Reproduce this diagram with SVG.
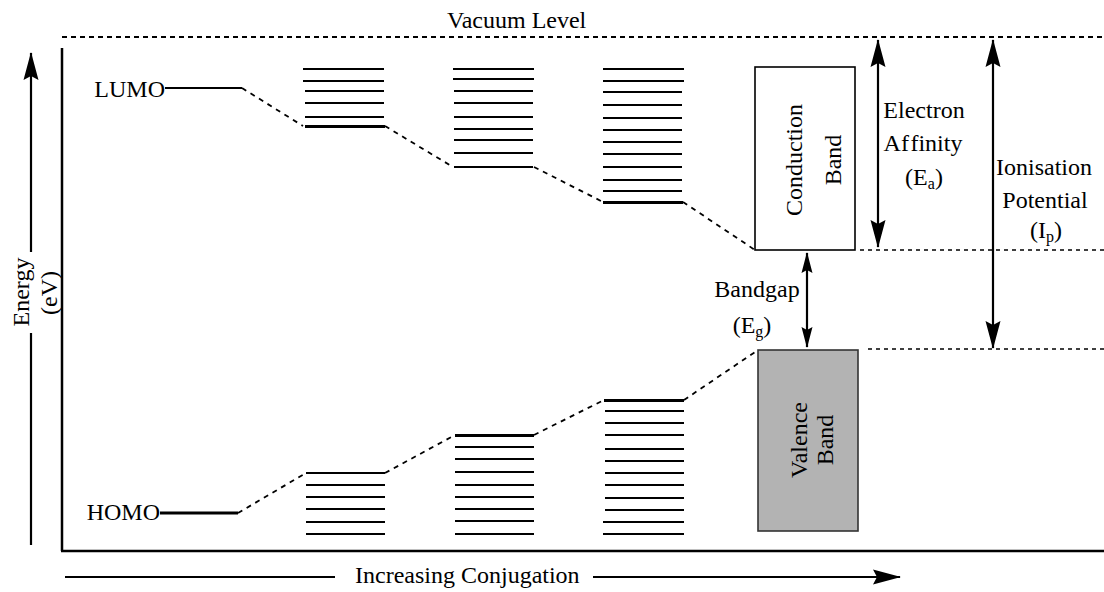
<svg xmlns="http://www.w3.org/2000/svg" width="1104" height="592" viewBox="0 0 1104 592">
<style>
text{font-family:"Liberation Serif","Times New Roman",serif;font-size:24px;fill:#000}
.ax{stroke:#000;stroke-width:2.5;fill:none}
.lv{stroke:#000;stroke-width:2}
.lvt{stroke:#000;stroke-width:3.2}
.dsh{stroke:#000;stroke-width:1.8;stroke-dasharray:5 5;fill:none}
.dot{stroke:#000;stroke-width:1.5;stroke-dasharray:4 4;fill:none}
.vac{stroke:#000;stroke-width:2.2;stroke-dasharray:5 4;fill:none}
.arr{stroke:#000;stroke-width:2.2;fill:none}
.sub{font-size:16px}
</style>
<defs>
<marker id="ah" markerUnits="userSpaceOnUse" markerWidth="28" markerHeight="16" viewBox="0 0 28 16" refX="27" refY="8" orient="auto-start-reverse">
<path d="M28,8 L0,0.5 L4,8 L0,15.5 Z" fill="#000"/>
</marker>
<marker id="ahs" markerUnits="userSpaceOnUse" markerWidth="21" markerHeight="12" viewBox="0 0 21 12" refX="20" refY="6" orient="auto-start-reverse">
<path d="M21,6 L0,0.5 L3,6 L0,11.5 Z" fill="#000"/>
</marker>
</defs>
<rect width="1104" height="592" fill="#fff"/>

<g id="frame">
<line class="vac" x1="62" y1="37" x2="1104" y2="37"/>
<line class="ax" x1="62" y1="48" x2="62" y2="551"/>
<line class="ax" x1="61" y1="551" x2="1104" y2="551"/>
<text x="447" y="28">Vacuum Level</text>
</g>

<g id="energy-axis">
<line class="arr" x1="31" y1="545" x2="31" y2="333"/>
<line class="arr" x1="31" y1="252" x2="31" y2="53" marker-end="url(#ah)"/>
<text transform="translate(29,292) rotate(-90)" text-anchor="middle">Energy</text>
<text transform="translate(57,293) rotate(-90)" text-anchor="middle">(eV)</text>
</g>

<g id="conjugation-axis">
<line class="arr" x1="65" y1="577" x2="335" y2="577"/>
<line class="arr" x1="593" y1="577" x2="900" y2="577" marker-end="url(#ah)"/>
<text x="355" y="583">Increasing Conjugation</text>
</g>

<g id="lumo">
<text x="165" y="97" text-anchor="end">LUMO</text>
<line class="lv" x1="165" y1="88" x2="242" y2="88"/>
</g>

<g id="homo">
<text x="160" y="520" text-anchor="end">HOMO</text>
<line class="lvt" x1="160" y1="513" x2="238" y2="513"/>
</g>

<g id="lumo-1">
<line class="lv" x1="303" y1="69" x2="384" y2="69"/>
<line class="lv" x1="303" y1="81" x2="384" y2="81"/>
<line class="lv" x1="305" y1="91" x2="384" y2="91"/>
<line class="lv" x1="305" y1="103" x2="384" y2="103"/>
<line class="lv" x1="305" y1="117" x2="384" y2="117"/>
<line class="lvt" x1="305" y1="126.5" x2="385" y2="126.5"/>
</g>
<g id="lumo-2">
<line class="lv" x1="453" y1="69" x2="534" y2="69"/>
<line class="lv" x1="453" y1="79" x2="534" y2="79"/>
<line class="lv" x1="454" y1="91" x2="533" y2="91"/>
<line class="lv" x1="454" y1="103" x2="533" y2="103"/>
<line class="lv" x1="454" y1="117" x2="533" y2="117"/>
<line class="lv" x1="454" y1="129" x2="533" y2="129"/>
<line class="lv" x1="454" y1="140" x2="533" y2="140"/>
<line class="lv" x1="454" y1="153" x2="533" y2="153"/>
<line class="lv" x1="454" y1="167" x2="533" y2="167"/>
</g>
<g id="lumo-3">
<line class="lv" x1="603" y1="69" x2="684" y2="69"/>
<line class="lv" x1="603" y1="81" x2="684" y2="81"/>
<line class="lv" x1="603" y1="92" x2="682" y2="92"/>
<line class="lv" x1="603" y1="105" x2="682" y2="105"/>
<line class="lv" x1="603" y1="118" x2="682" y2="118"/>
<line class="lv" x1="603" y1="130" x2="682" y2="130"/>
<line class="lv" x1="603" y1="142" x2="682" y2="142"/>
<line class="lv" x1="603" y1="154" x2="682" y2="154"/>
<line class="lv" x1="603" y1="167" x2="682" y2="167"/>
<line class="lv" x1="603" y1="180" x2="682" y2="180"/>
<line class="lv" x1="603" y1="191" x2="682" y2="191"/>
<line class="lvt" x1="603" y1="202.5" x2="683" y2="202.5"/>
</g>

<g id="homo-1">
<line class="lv" x1="306" y1="473" x2="385" y2="473"/>
<line class="lv" x1="306" y1="485" x2="385" y2="485"/>
<line class="lv" x1="306" y1="497" x2="385" y2="497"/>
<line class="lv" x1="306" y1="509" x2="385" y2="509"/>
<line class="lv" x1="306" y1="522" x2="385" y2="522"/>
<line class="lv" x1="306" y1="534" x2="385" y2="534"/>
</g>
<g id="homo-2">
<line class="lvt" x1="455" y1="435.5" x2="534" y2="435.5"/>
<line class="lv" x1="455" y1="447" x2="534" y2="447"/>
<line class="lv" x1="455" y1="459" x2="534" y2="459"/>
<line class="lv" x1="455" y1="472" x2="534" y2="472"/>
<line class="lv" x1="455" y1="485" x2="534" y2="485"/>
<line class="lv" x1="455" y1="497" x2="534" y2="497"/>
<line class="lv" x1="455" y1="509" x2="534" y2="509"/>
<line class="lv" x1="455" y1="521" x2="534" y2="521"/>
<line class="lv" x1="455" y1="534" x2="534" y2="534"/>
</g>
<g id="homo-3">
<line class="lvt" x1="604" y1="400.5" x2="684" y2="400.5"/>
<line class="lv" x1="605" y1="411" x2="684" y2="411"/>
<line class="lv" x1="605" y1="423" x2="684" y2="423"/>
<line class="lv" x1="605" y1="435" x2="684" y2="435"/>
<line class="lv" x1="605" y1="449" x2="684" y2="449"/>
<line class="lv" x1="605" y1="461" x2="684" y2="461"/>
<line class="lv" x1="605" y1="473" x2="684" y2="473"/>
<line class="lv" x1="605" y1="485" x2="684" y2="485"/>
<line class="lv" x1="605" y1="498" x2="684" y2="498"/>
<line class="lv" x1="605" y1="510" x2="684" y2="510"/>
<line class="lv" x1="603" y1="522" x2="684" y2="522"/>
<line class="lv" x1="603" y1="534" x2="684" y2="534"/>
</g>

<g id="conduction-band">
<rect x="755" y="67" width="100" height="183" fill="#fff" stroke="#000" stroke-width="1.6"/>
<text transform="translate(802,160) rotate(-90)" text-anchor="middle">Conduction</text>
<text transform="translate(841,160) rotate(-90)" text-anchor="middle">Band</text>
</g>

<g id="valence-band">
<rect x="758" y="350" width="100" height="181" fill="#b3b3b3" stroke="#333" stroke-width="1.6"/>
<text transform="translate(807,440) rotate(-90)" text-anchor="middle">Valence</text>
<text transform="translate(833,440) rotate(-90)" text-anchor="middle">Band</text>
</g>

<g id="electron-affinity">
<text x="924" y="118" text-anchor="middle">Electron</text>
<text x="923" y="151" text-anchor="middle">Af<tspan dx="2">finity</tspan></text>
<text x="924" y="185" text-anchor="middle">(E<tspan class="sub" dy="4">a</tspan><tspan dy="-4">)</tspan></text>
</g>

<g id="ionisation-potential">
<text x="1044" y="175" text-anchor="middle">Ionisation</text>
<text x="1045" y="208" text-anchor="middle">Potential</text>
<text x="1046" y="238" text-anchor="middle">(I<tspan class="sub" dy="4">p</tspan><tspan dy="-4">)</tspan></text>
</g>

<g id="bandgap">
<text x="757" y="297" text-anchor="middle">Bandgap</text>
<text x="752" y="333" text-anchor="middle">(E<tspan class="sub" dy="4">g</tspan><tspan dy="-4">)</tspan></text>
</g>

<g id="connectors">
<path class="dsh" d="M242,88 L303,126"/>
<path class="dsh" d="M385,126 L453,167"/>
<path class="dsh" d="M534,167 L603,202"/>
<path class="dsh" d="M683,202 L755,250"/>
<path class="dsh" d="M238,513 L306,473"/>
<path class="dsh" d="M385,473 L455,435"/>
<path class="dsh" d="M534,435 L604,400"/>
<path class="dsh" d="M684,400 L758,350"/>
<line class="dot" x1="860" y1="250" x2="1104" y2="250"/>
<line class="dot" x1="868" y1="349" x2="1104" y2="349"/>
<line class="arr" x1="878" y1="40" x2="878" y2="247" marker-start="url(#ah)" marker-end="url(#ah)"/>
<line class="arr" x1="993" y1="40" x2="993" y2="348" marker-start="url(#ah)" marker-end="url(#ah)"/>
<line class="arr" x1="807" y1="253" x2="807" y2="347" marker-start="url(#ahs)" marker-end="url(#ahs)"/>
</g>
</svg>
